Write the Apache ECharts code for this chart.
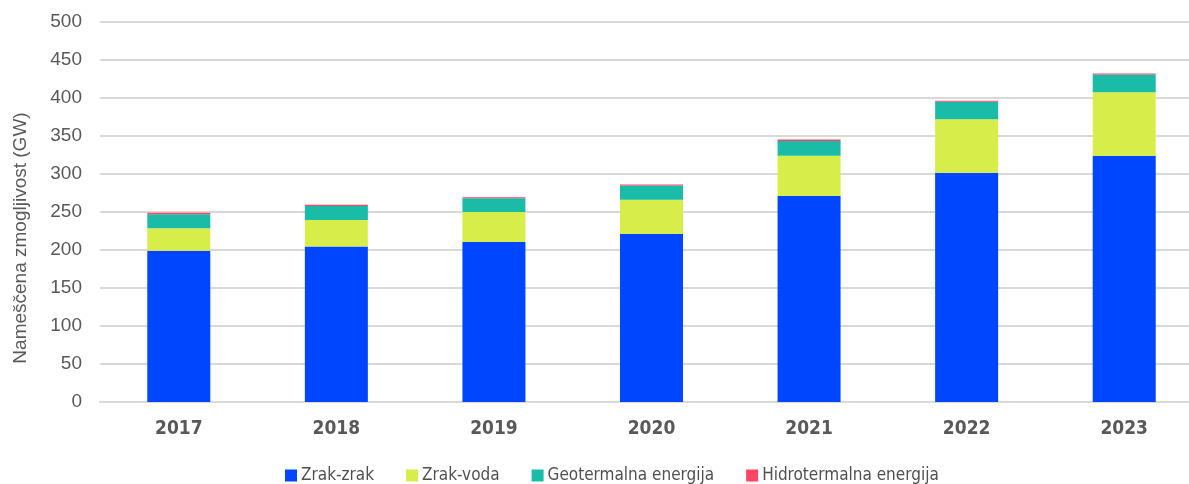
<!DOCTYPE html>
<html>
<head>
<meta charset="utf-8">
<script src="https://cdn.jsdelivr.net/npm/echarts@6/dist/echarts.min.js"></script>
<style>html,body{margin:0;padding:0;background:#fff}#c{width:1189px;height:484px}</style>
</head>
<body>
<div id="c"></div>
<script>
const years = ['2017','2018','2019','2020','2021','2022','2023'];
const zrakZrak = [199, 204.5, 210.5, 221, 271, 301.5, 324];
const zrakVoda = [29.5, 35, 39.5, 45, 53, 70.5, 83.5];
const geotermalna = [18.5, 18.5, 18, 19, 19.5, 23, 23.5];
const hidrotermalna = [2, 1.5, 1.5, 1.3, 1.8, 1.3, 1.4];
const yTicks = {min: 0, max: 500, interval: 50};

const textColor = '#595959';
const cond = "'DejaVu Sans Condensed','Liberation Sans',sans-serif";
const chart = echarts.init(document.getElementById('c'));
function s(name, data, color) {
  return {name, type: 'bar', stack: 'a', data, barWidth: 63,
    itemStyle: {color}, emphasis: {disabled: true}};
}
chart.setOption({
  animation: false,
  grid: {left: 100, width: 1103, top: 22, bottom: 82, outerBoundsMode: 'none', containLabel: false},
  legend: {
    bottom: -5, left: 280, itemWidth: 12, itemHeight: 12, itemGap: 32,
    icon: 'rect',
    textStyle: {color: '#505050', fontSize: 17, fontFamily: cond, fontWeight: 'normal', padding: [0,0,0,-1]},
    data: ['Zrak-zrak','Zrak-voda','Geotermalna energija','Hidrotermalna energija']
  },
  xAxis: {
    type: 'category', data: years,
    axisLine: {lineStyle: {color: '#d9d9d9', width: 2}},
    axisTick: {show: false},
    axisLabel: {color: textColor, fontSize: 19, fontWeight: 'bold', fontFamily: cond, margin: 18}
  },
  yAxis: {
    type: 'value', min: yTicks.min, max: yTicks.max, interval: yTicks.interval,
    name: 'Nameščena zmogljivost (GW)', nameLocation: 'middle', nameRotate: 90, nameGap: 70,
    nameTextStyle: {color: textColor, fontSize: 19, fontFamily: "'Liberation Sans',Arial,sans-serif", padding: [0, 52, 0, 0]},
    axisLabel: {color: textColor, fontSize: 19, fontFamily: "'Liberation Sans',Arial,sans-serif", margin: 18},
    splitLine: {lineStyle: {color: '#d9d9d9', width: 2}},
    axisLine: {show: false}, axisTick: {show: false}
  },
  series: [
    s('Zrak-zrak', zrakZrak, '#0046FF'),
    s('Zrak-voda', zrakVoda, '#D7EE4A'),
    s('Geotermalna energija', geotermalna, '#1ABCA8'),
    s('Hidrotermalna energija', hidrotermalna, '#FF4566')
  ]
});
</script>
</body>
</html>
